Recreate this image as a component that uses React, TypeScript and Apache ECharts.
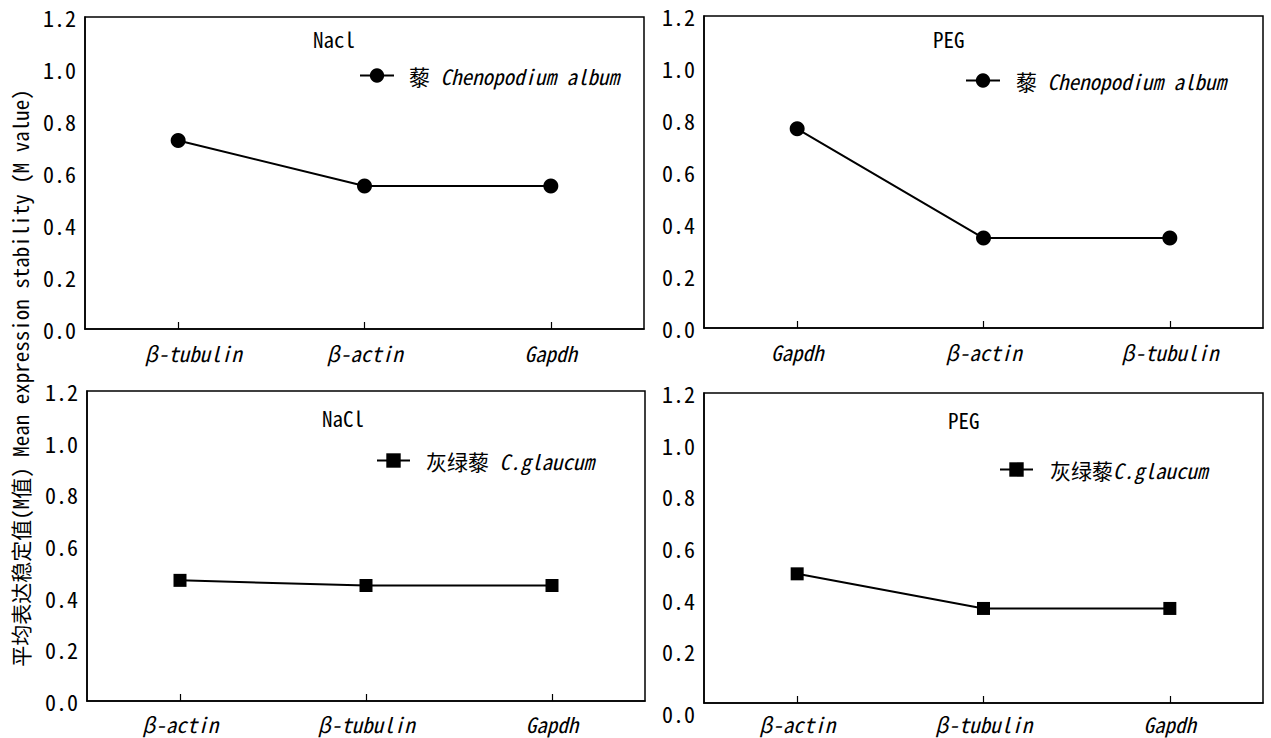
import React, { useEffect, useRef } from "react";
import * as echarts from "echarts";

// ---- data ----
const catsNaclAlbum = ["β-tubulin", "β-actin", "Gapdh"];
const valsNaclAlbum = [0.725, 0.55, 0.55];
const catsPegAlbum = ["Gapdh", "β-actin", "β-tubulin"];
const valsPegAlbum = [0.766, 0.346, 0.346];
const catsNaclGlaucum = ["β-actin", "β-tubulin", "Gapdh"];
const valsNaclGlaucum = [0.467, 0.447, 0.447];
const catsPegGlaucum = ["β-actin", "β-tubulin", "Gapdh"];
const valsPegGlaucum = [0.5, 0.366, 0.366];

const panelTitles = ["Nacl", "PEG", "NaCl", "PEG"];
const seriesNames = ["藜 Chenopodium album", "藜 Chenopodium album ", "灰绿藜 C.glaucum", "灰绿藜C.glaucum"];
const yMin = 0;
const yMax = 1.2;
const yInterval = 0.2;
const yTitle = "平均表达稳定值(M值) Mean expression stability (M value)";

const FONT = "'Noto Sans Mono CJK SC', 'Noto Sans CJK SC', monospace";
const FS = 21;
const FS_Y = 22;

export default function App() {
  const ref = useRef<HTMLDivElement>(null);
  useEffect(() => {
    document.body.style.margin = "0";
    const chart = echarts.init(ref.current!, null, { renderer: "svg" });

    const grids = [
      { left: 85, top: 17, width: 559, height: 312 },
      { left: 704, top: 16, width: 559, height: 312 },
      { left: 87, top: 391, width: 558, height: 310 },
      { left: 704, top: 393, width: 559, height: 310 },
    ];
    const cats = [catsNaclAlbum, catsPegAlbum, catsNaclGlaucum, catsPegGlaucum];
    const vals = [valsNaclAlbum, valsPegAlbum, valsNaclGlaucum, valsPegGlaucum];
    const symbols = ["circle", "circle", "rect", "rect"];
    const symbolSizes = [15, 15, 13, 13];

    const legendPos = [
      { left: 359, cy: 76, w: 34, pad: 10 },
      { left: 965, cy: 81, w: 34, pad: 11 },
      { left: 376, cy: 461, w: 33, pad: 11 },
      { left: 999, cy: 470, w: 33, pad: 12 },
    ];
    const titlePos = [
      { x: 313, y: 39 },
      { x: 933, y: 39 },
      { x: 322, y: 418 },
      { x: 948, y: 420 },
    ];
    const xLabelMargin = [13, 13, 12, 10];

    const option: any = {
      animation: false,
      backgroundColor: "#fff",
      grid: grids.map((g) => ({
        ...g,
        show: true,
        borderColor: "#000",
        borderWidth: 1.5,
        backgroundColor: "transparent",
        containLabel: false,
      })),
      xAxis: cats.map((c, i) => ({
        type: "category",
        gridIndex: i,
        data: c.map((name, j) =>
          i === 0 && j === 0 ? { value: name, textStyle: { padding: [0, 0, 0, 30] } } : name
        ),
        boundaryGap: true,
        axisLine: { show: true, lineStyle: { color: "#000", width: 1.5 } },
        axisTick: { show: true, inside: true, length: 7, alignWithLabel: true, lineStyle: { color: "#000", width: 1.2 } },
        axisLabel: {
          color: "#000",
          fontSize: FS,
          fontFamily: FONT,
          fontStyle: "italic",
          margin: xLabelMargin[i],
          interval: 0,
        },
        splitLine: { show: false },
      })),
      yAxis: cats.map((_, i) => ({
        type: "value",
        gridIndex: i,
        min: yMin,
        max: yMax,
        interval: yInterval,
        axisLine: { show: true, lineStyle: { color: "#000", width: 1.5 } },
        axisTick: { show: false },
        splitLine: { show: false },
        axisLabel: {
          color: "#000",
          fontSize: FS_Y,
          fontFamily: FONT,
          margin: 9,
          formatter: (v: number) => (i === 3 && v === 0 ? "{z|0.0}" : v.toFixed(1)),
          rich: { z: { padding: [20, 0, 0, 0], fontSize: FS_Y, fontFamily: FONT, color: "#000" } },
        },
      })),
      legend: legendPos.map((p, i) => ({
        left: p.left,
        top: p.cy - 11,
        padding: 0,
        itemWidth: p.w,
        itemHeight: 18,
        data: [seriesNames[i]],
        selectedMode: false,
        formatter: (name: string) => {
          const m = name.trim().match(/^([^A-Za-z]*)(.*)$/);
          const cn = m ? m[1] : "";
          const la = m ? m[2] : name;
          return `{cn|${cn}}{la|${la}}`;
        },
        textStyle: {
          color: "#000",
          fontSize: FS,
          fontFamily: FONT,
          rich: {
            cn: { fontSize: FS, fontFamily: FONT, color: "#000", padding: [0, 0, 0, p.pad] },
            la: { fontSize: FS, fontFamily: FONT, color: "#000", fontStyle: "italic" },
          },
        },
      })),
      series: vals.map((v, i) => ({
        type: "line",
        name: seriesNames[i],
        xAxisIndex: i,
        yAxisIndex: i,
        data: v,
        symbol: symbols[i],
        symbolSize: symbolSizes[i],
        itemStyle: { color: "#000" },
        lineStyle: { color: "#000", width: 2 },
      })),
      graphic: [
        ...titlePos.map((t, i) => ({
          type: "text",
          x: t.x,
          y: t.y,
          style: {
            text: panelTitles[i],
            fill: "#000",
            fontSize: FS,
            fontFamily: FONT,
            align: "left",
            verticalAlign: "middle",
          },
        })),
        {
          type: "text",
          x: 20,
          y: 378,
          rotation: Math.PI / 2,
          style: {
            text: yTitle,
            fill: "#000",
            fontSize: FS,
            fontFamily: FONT,
            align: "center",
            verticalAlign: "middle",
          },
        },
      ],
    };
    chart.setOption(option);
    return () => chart.dispose();
  }, []);
  return <div ref={ref} style={{ width: 1271, height: 738 }} />;
}
